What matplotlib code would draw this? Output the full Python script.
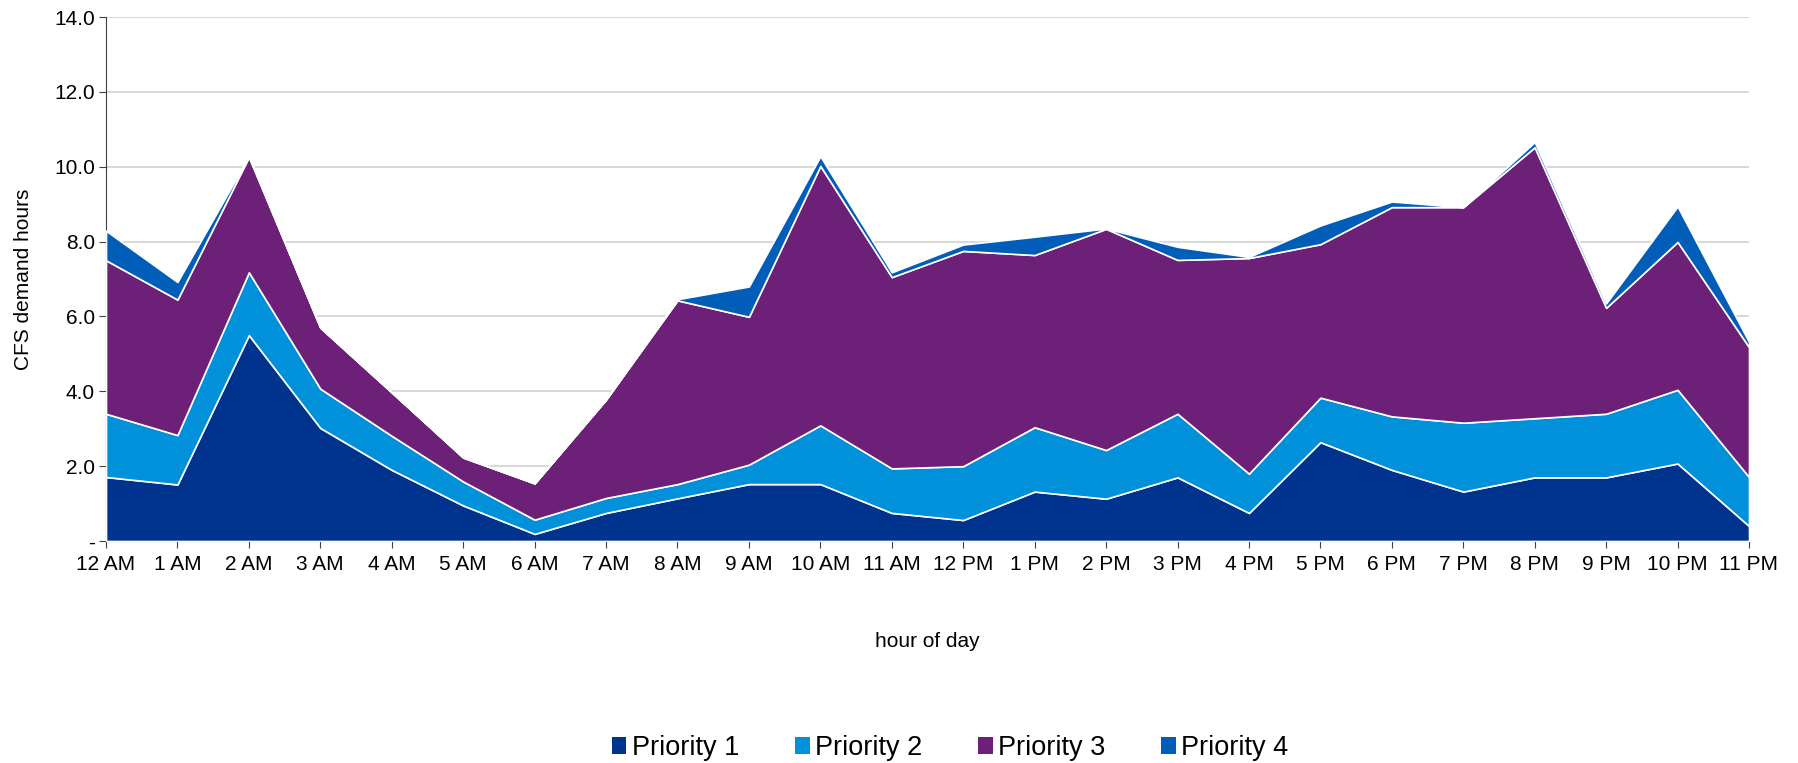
import matplotlib
matplotlib.use("Agg")
import matplotlib.pyplot as plt
from matplotlib.ticker import FuncFormatter, MultipleLocator
from matplotlib.patches import Patch
import numpy as np

plt.rcParams['font.family'] = ['Liberation Sans', 'DejaVu Sans']

hours = ["12 AM", "1 AM", "2 AM", "3 AM", "4 AM", "5 AM", "6 AM", "7 AM", "8 AM", "9 AM",
         "10 AM", "11 AM", "12 PM", "1 PM", "2 PM", "3 PM", "4 PM", "5 PM", "6 PM", "7 PM",
         "8 PM", "9 PM", "10 PM", "11 PM"]
priority1 = [1.71, 1.51, 5.50, 3.02, 1.90, 0.95, 0.19, 0.75, 1.14, 1.52, 1.52, 0.75,
             0.56, 1.32, 1.13, 1.70, 0.75, 2.64, 1.90, 1.32, 1.70, 1.70, 2.07, 0.40]
priority2 = [1.69, 1.32, 1.68, 1.05, 0.91, 0.64, 0.38, 0.40, 0.38, 0.52, 1.57, 1.19,
             1.44, 1.72, 1.30, 1.70, 1.05, 1.19, 1.43, 1.84, 1.58, 1.70, 1.97, 1.31]
priority3 = [4.10, 3.62, 3.08, 1.63, 1.16, 0.64, 0.97, 2.63, 4.91, 3.95, 6.93, 5.11,
             5.75, 4.60, 5.91, 4.11, 5.76, 4.10, 5.59, 5.76, 7.24, 2.83, 3.95, 3.47]
priority4 = [0.79, 0.47, 0.02, 0.00, 0.00, 0.00, 0.00, 0.00, 0.03, 0.81, 0.26, 0.13,
             0.17, 0.49, 0.01, 0.35, 0.03, 0.50, 0.15, 0.00, 0.14, 0.12, 0.95, 0.14]
series_names = ["Priority 1", "Priority 2", "Priority 3", "Priority 4"]
colors = ["#00338D", "#0091DA", "#6D2077", "#005EB8"]

fig = plt.figure(figsize=(17.99, 7.63), dpi=100)
ax = fig.add_axes([106/1799, 1 - 541/763, (1749-106)/1799, (541-17)/763])

x = np.arange(len(hours))
ax.stackplot(x, priority1, priority2, priority3, priority4, colors=colors,
             edgecolor="white", linewidth=1.2, zorder=3)

ax.set_xlim(0, len(hours) - 1)
ax.set_ylim(0, 14)
ax.yaxis.set_major_locator(MultipleLocator(2))
ax.yaxis.set_major_formatter(FuncFormatter(lambda v, p: "-" if abs(v) < 1e-9 else f"{v:.1f}"))
ax.set_xticks(x)
ax.set_xticklabels(hours)
ax.grid(axis="y", color="#D9D9D9", linewidth=1.5, zorder=0)
ax.set_axisbelow(True)

for s in ["top", "right"]:
    ax.spines[s].set_visible(False)
ax.spines["left"].set_color("#404040")
ax.spines["bottom"].set_color("#808080")
ax.tick_params(axis="both", labelsize=15, colors="#404040", labelcolor="black", length=5)
ax.tick_params(axis="y", pad=3)
ax.tick_params(axis="x", pad=5)

ax.set_ylabel("CFS demand hours", fontsize=15, labelpad=15)
ax.set_xlabel("hour of day", fontsize=15, labelpad=42)

handles = [Patch(facecolor=c, edgecolor="none") for c in colors]
fig.legend(handles, series_names, loc="center", bbox_to_anchor=(828/1568, 1 - 748/763),
           ncol=4, frameon=False, fontsize=19.5, handlelength=0.55, handleheight=0.55,
           handletextpad=0.2, columnspacing=2.05)

fig.savefig("out.png", dpi=100)
